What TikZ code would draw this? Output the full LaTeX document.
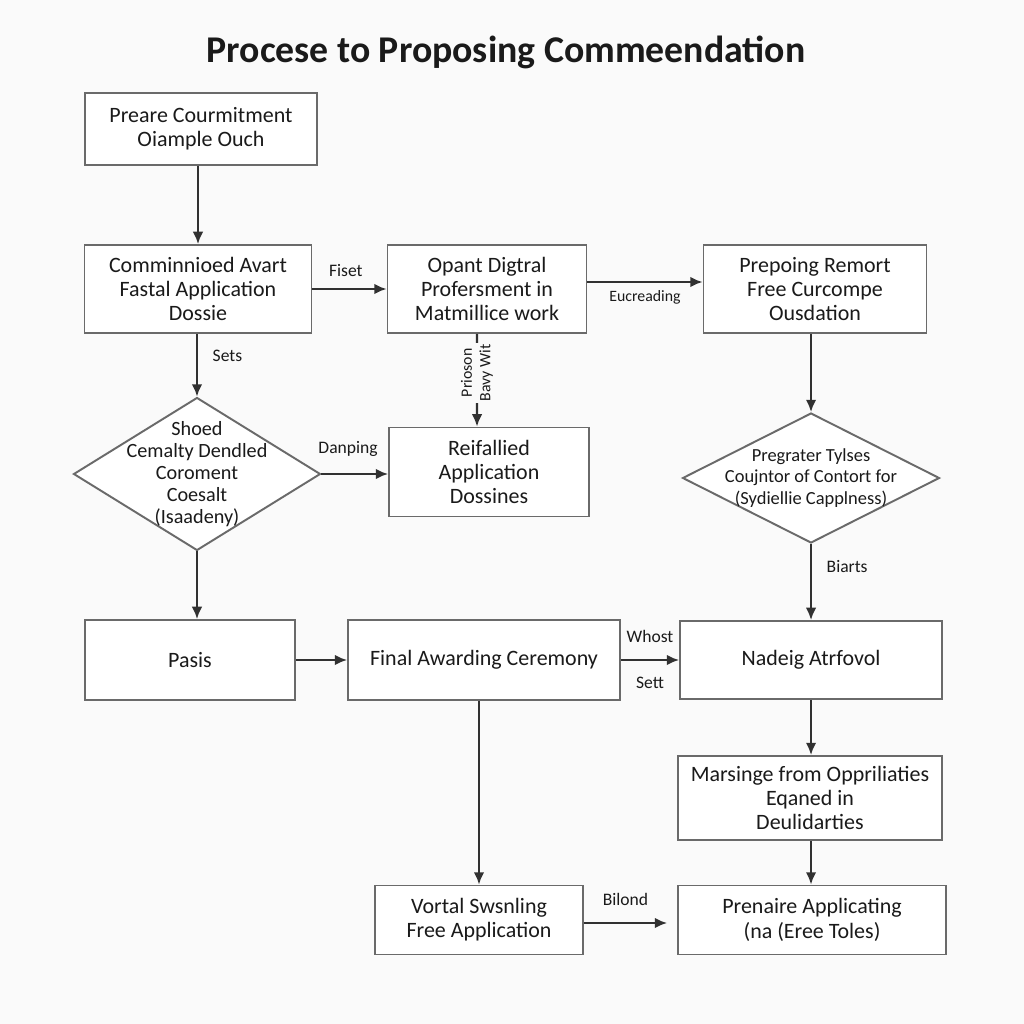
\documentclass[tikz,border=0pt]{standalone}
\usepackage{fontspec}
\setmainfont{Carlito}
\usetikzlibrary{arrows.meta,positioning,shapes.geometric}
\definecolor{FlowInk}{HTML}{1A1A1A}
\definecolor{FlowEdge}{HTML}{6A6A6A}
\definecolor{FlowPaper}{HTML}{FAFAFA}
\tikzset{
  flowtext/.style={font=\fontsize{12.5}{13.8}\selectfont, text=FlowInk},
  flowsmall/.style={font=\fontsize{10}{11}\selectfont, text=FlowInk},
  flowtitle/.style={font=\fontsize{21.5}{24}\selectfont\bfseries, text=FlowInk},
  flowbox/.style={draw=FlowEdge, line width=1.1pt, fill=white, align=center, inner sep=2pt},
  flowdec/.style={diamond, draw=FlowEdge, line width=1.1pt, fill=white, inner sep=0pt},
  flowarrow/.style={-{Latex[length=7pt,width=6pt]}, line width=1.2pt, draw=FlowInk!90}
}
\begin{document}
\begin{tikzpicture}[x=0.02cm, y=-0.02cm, every node/.style={flowtext}]
\path[fill=FlowPaper, use as bounding box] (0,0) rectangle (1024,1024);
\node[flowtitle] (title) at (506,52) {Procese to Proposing Commeendation};
% top row
\node[flowbox, minimum width=4.64cm, minimum height=1.44cm] (prep) at (201,129) {Preare Courmitment\\Oiample Ouch};
\node[flowbox, minimum width=4.54cm, minimum height=1.76cm] (comm) at (198,289) {Comminnioed Avart\\Fastal Application\\Dossie};
\node[flowbox, minimum width=3.98cm, minimum height=1.76cm] (opant) at (487,289) {Opant Digtral\\Profersment in\\Matmillice work};
\node[flowbox, minimum width=4.46cm, minimum height=1.76cm] (prepo) at (815,289) {Prepoing Remort\\Free Curcompe\\Ousdation};
% decisions
\node[flowdec, minimum width=4.94cm, minimum height=3.06cm] (dleft) at (197,474) {};
\node[align=center, font=\fontsize{11.5}{12.5}\selectfont] (dlefttext) at (dleft.center) {Shoed\\Cemalty Dendled\\Coroment\\Coesalt\\(Isaadeny)};
\node[flowbox, minimum width=4.0cm, minimum height=1.78cm] (reia) at (489,472) {Reifallied\\Application\\Dossines};
\node[flowdec, minimum width=5.14cm, minimum height=2.6cm] (dright) at (811,478) {};
\node[align=center, font=\fontsize{10.5}{12}\selectfont] (drighttext) at (dright.center) {Pregrater Tylses\\Coujntor of Contort for\\(Sydiellie Capplness)};
% lower rows
\node[flowbox, minimum width=4.2cm, minimum height=1.6cm] (pasis) at (190,660) {Pasis};
\node[flowbox, minimum width=5.44cm, minimum height=1.6cm] (final) at (484,660) {Final Awarding Ceremony};
\node[flowbox, minimum width=5.24cm, minimum height=1.56cm] (nadeig) at (811,660) {Nadeig Atrfovol};
\node[flowbox, minimum width=5.28cm, minimum height=1.68cm] (mars) at (810,798) {Marsinge from Oppriliaties\\Eqaned in\\Deulidarties};
\node[flowbox, minimum width=4.16cm, minimum height=1.38cm] (vortal) at (479,920) {Vortal Swsnling\\Free Application};
\node[flowbox, minimum width=5.36cm, minimum height=1.38cm] (pren) at (812,920) {Prenaire Applicating\\(na (Eree Toles)};
% connectors
\draw[flowarrow] (prep.south -| comm) -- (comm.north);
\draw[flowarrow] (comm.east) -- (opant.west) node[pos=0.45, above=3pt, flowsmall] {Fiset};
\draw[flowarrow] ([yshift=0.14cm]opant.east) -- ([yshift=0.14cm]prepo.west) node[midway, below=1pt, flowsmall, font=\fontsize{9}{10}\selectfont] {Eucreading};
\draw[flowarrow] ([xshift=-0.2cm]opant.south) -- ([xshift=-0.24cm]reia.north) node[pos=0.42, rotate=90, align=center, fill=FlowPaper, inner sep=1pt, font=\fontsize{9}{10.5}\selectfont] {Prioson\\Bavy Wit};
\draw[flowarrow] (comm.south -| dleft) -- (dleft.north) node[pos=0.35, right=5pt, flowsmall] {Sets};
\draw[flowarrow] (dleft.east) -- (dleft.east -| reia.west) node[pos=0.4, above=6pt, flowsmall] {Danping};
\draw[flowarrow] (dleft.south) -- (dleft.south |- pasis.north);
\draw[flowarrow] (pasis.east) -- (final.west);
\draw[flowarrow] (final.east) -- (nadeig.west) node[midway, above=6pt, flowsmall] {Whost} node[midway, below=6pt, flowsmall] {Sett};
\draw[flowarrow] (final.south -| vortal) -- (vortal.north);
\draw[flowarrow] (prepo.south -| dright) -- (dright.north);
\draw[flowarrow] (dright.south) -- (dright.south |- nadeig.north) node[pos=0.3, right=5pt, flowsmall] {Biarts};
\draw[flowarrow] (nadeig.south -| dright) -- (mars.north -| dright);
\draw[flowarrow] (mars.south -| dright) -- (pren.north -| dright);
\draw[flowarrow] ([yshift=-0.06cm]vortal.east) -- ([xshift=-0.2cm, yshift=-0.06cm]pren.west) node[midway, above=6pt, flowsmall] {Bilond};
\end{tikzpicture}
\end{document}
